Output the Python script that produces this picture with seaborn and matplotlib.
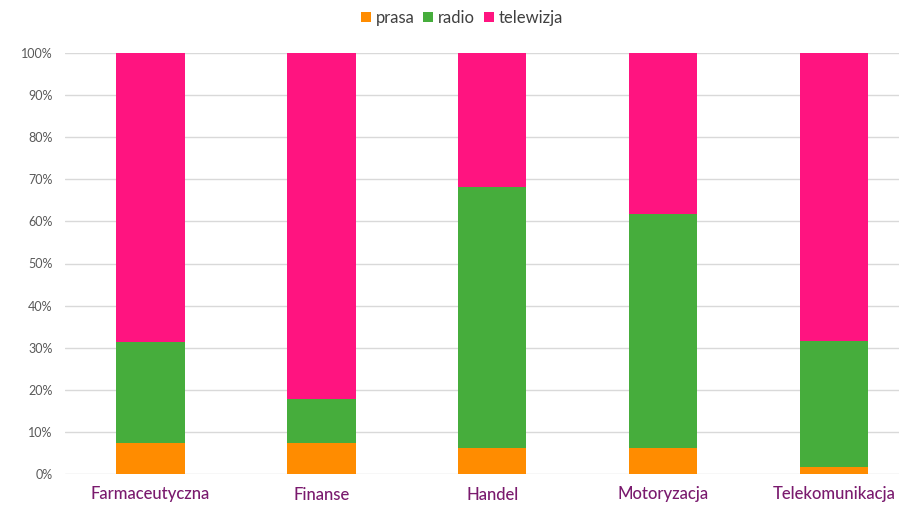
import numpy as np
import pandas as pd
import matplotlib
matplotlib.use("Agg")
import matplotlib.pyplot as plt
import seaborn as sns
from matplotlib.patches import Patch
from matplotlib.ticker import PercentFormatter

# Udział mediów w wydatkach reklamowych wg branży (%)
branze = ["Farmaceutyczna", "Finanse", "Handel", "Motoryzacja", "Telekomunikacja"]
prasa = [7.4, 7.4, 6.2, 6.2, 1.6]
radio = [24.0, 10.3, 62.0, 55.6, 30.1]
telewizja = [68.6, 82.3, 31.8, 38.2, 68.3]

serie = ["prasa", "radio", "telewizja"]
kolory = {"prasa": "#FF8C00", "radio": "#46AD3C", "telewizja": "#FF1480"}

sns.set_theme(style="white")
plt.rcParams["font.family"] = ["Lato", "DejaVu Sans"]

df = pd.DataFrame({"branza": branze, "prasa": prasa, "radio": radio,
                   "telewizja": telewizja})
# cumulative tops of each stacked segment
df["top_prasa"] = df["prasa"]
df["top_radio"] = df["prasa"] + df["radio"]
df["top_telewizja"] = df["top_radio"] + df["telewizja"]

fig = plt.figure(figsize=(8.99, 5.05), dpi=100)
ax = fig.add_axes([65 / 899, 1 - 474 / 505, (919.5 - 65) / 899, (474 - 53) / 505])

for s in reversed(serie):
    sns.barplot(data=df, x="branza", y=f"top_{s}", color=kolory[s],
                width=0.4, saturation=1, ax=ax, zorder=3, errorbar=None,
                linewidth=0)

ax.set_ylim(0, 100)
ax.set_xlim(-0.5, 4.5)
ax.set_yticks(np.arange(0, 101, 10))
ax.yaxis.set_major_formatter(PercentFormatter(decimals=0))
ax.grid(axis="y", color="#D9D9D9", linewidth=1, zorder=0)
ax.set_axisbelow(True)
for sp in ax.spines.values():
    sp.set_visible(False)
ax.set_xlabel("")
ax.set_ylabel("")
ax.tick_params(axis="y", length=0, pad=9, labelsize=9, labelcolor="#595959")
ax.tick_params(axis="x", length=0, pad=9, labelsize=12, labelcolor="#7A1A6E")
for lbl in ax.get_xticklabels():
    lbl.set_fontweight("medium")

handles = [Patch(facecolor=kolory[s], edgecolor="none") for s in serie]
fig.legend(handles, serie, loc="center", bbox_to_anchor=(462 / 899, 1 - 18 / 505),
           ncol=3, frameon=False, fontsize=12, handlelength=0.6, handleheight=0.6,
           handletextpad=0.3, columnspacing=0.5, labelcolor="#404040")

fig.savefig("out.png", dpi=100)
